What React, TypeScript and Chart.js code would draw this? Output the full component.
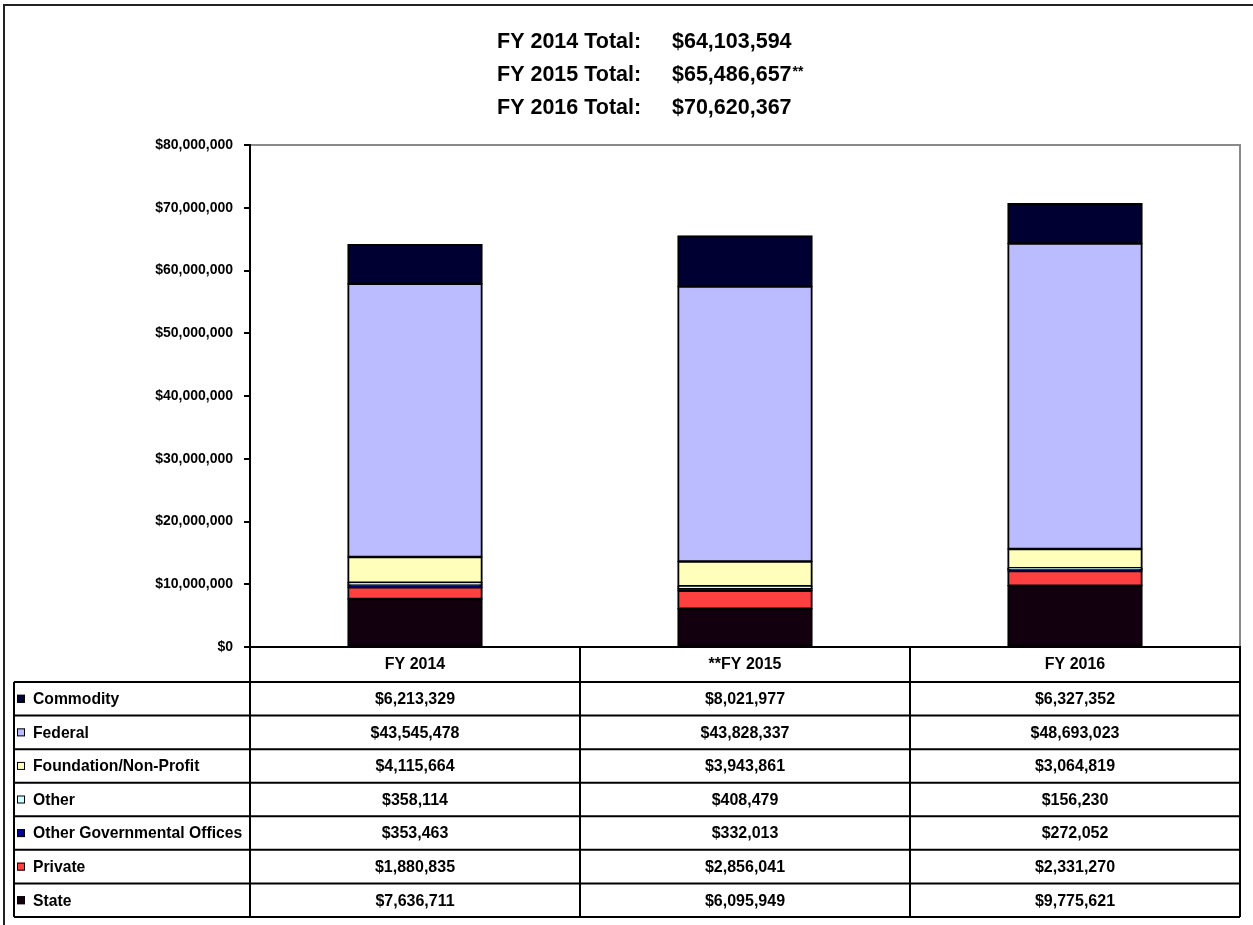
import { useEffect, useRef } from "react";
import { Chart, registerables } from "chart.js";

Chart.register(...registerables);

// ---- data ----
const categories = ["FY 2014", "**FY 2015", "FY 2016"];
const titleLabels = ["FY 2014 Total:", "FY 2015 Total:", "FY 2016 Total:"];
const titleSuffix = ["", "**", ""];

const commodity = [6213329, 8021977, 6327352];
const federal = [43545478, 43828337, 48693023];
const foundation = [4115664, 3943861, 3064819];
const other = [358114, 408479, 156230];
const otherGov = [353463, 332013, 272052];
const privateFunds = [1880835, 2856041, 2331270];
const state = [7636711, 6095949, 9775621];

const yMin = 0;
const yMax = 80000000;
const yStep = 10000000;

// stacking order: bottom -> top
const seriesNames = [
  "State",
  "Private",
  "Other Governmental Offices",
  "Other",
  "Foundation/Non-Profit",
  "Federal",
  "Commodity",
];
const seriesValues = [state, privateFunds, otherGov, other, foundation, federal, commodity];
const seriesColors = ["#12000f", "#ff4040", "#000099", "#ccffff", "#ffffbb", "#bbbbff", "#000033"];

const FONT = '"Liberation Sans", Arial, Helvetica, sans-serif';
const fmt = (v: number) => "$" + Math.round(v).toLocaleString("en-US");

const totals = categories.map((_, i) => seriesValues.reduce((s, arr) => s + arr[i], 0));

const decorPlugin = {
  id: "decor",
  beforeDraw(chart: any) {
    const ctx = chart.ctx as CanvasRenderingContext2D;
    const { left, right, top, bottom } = chart.chartArea;
    ctx.save();
    ctx.fillStyle = "#ffffff";
    ctx.fillRect(0, 0, chart.width, chart.height);
    // outer frame
    ctx.strokeStyle = "#222222";
    ctx.lineWidth = 2;
    ctx.beginPath();
    ctx.moveTo(4, chart.height);
    ctx.lineTo(4, 5);
    ctx.lineTo(chart.width, 5);
    ctx.stroke();
    // plot border (top + right), gray
    ctx.strokeStyle = "#8a8a8a";
    ctx.lineWidth = 2;
    ctx.beginPath();
    ctx.moveTo(left, top);
    ctx.lineTo(right, top);
    ctx.lineTo(right, bottom);
    ctx.stroke();
    ctx.restore();
  },
  afterDraw(chart: any) {
    const ctx = chart.ctx as CanvasRenderingContext2D;
    const { left, right, bottom } = chart.chartArea;
    const xs = chart.scales.x;
    ctx.save();

    // ---- title block ----
    ctx.fillStyle = "#000";
    ctx.textBaseline = "alphabetic";
    ctx.textAlign = "left";
    const baselines = [48, 81, 114];
    titleLabels.forEach((lab, i) => {
      ctx.font = `bold 21.5px ${FONT}`;
      ctx.fillText(lab, 497, baselines[i]);
      const val = fmt(totals[i]);
      ctx.fillText(val, 672, baselines[i]);
      if (titleSuffix[i]) {
        const w = ctx.measureText(val).width;
        ctx.font = `bold 14px ${FONT}`;
        ctx.fillText(titleSuffix[i], 672 + w + 1, baselines[i] - 5);
      }
    });

    // ---- data table ----
    const headerBottom = 682;
    const tableBottom = 917;
    const tableLeft = 14;
    const rows = seriesNames.length;
    const rowH = (tableBottom - headerBottom) / rows;

    ctx.strokeStyle = "#000";
    ctx.lineWidth = 2;
    ctx.beginPath();
    ctx.moveTo(left, bottom);
    ctx.lineTo(right, bottom);
    for (let r = 0; r <= rows; r++) {
      const y = headerBottom + r * rowH;
      ctx.moveTo(tableLeft, y);
      ctx.lineTo(right, y);
    }
    ctx.moveTo(tableLeft, headerBottom);
    ctx.lineTo(tableLeft, tableBottom);
    ctx.moveTo(left, bottom);
    ctx.lineTo(left, tableBottom);
    for (let i = 0; i < categories.length - 1; i++) {
      const bx = (xs.getPixelForValue(i) + xs.getPixelForValue(i + 1)) / 2;
      ctx.moveTo(bx, bottom);
      ctx.lineTo(bx, tableBottom);
    }
    ctx.moveTo(right, bottom);
    ctx.lineTo(right, tableBottom);
    ctx.stroke();

    // rows: top-down = reverse of stacking order
    for (let r = 0; r < rows; r++) {
      const si = rows - 1 - r;
      const cy = headerBottom + r * rowH + rowH / 2;
      ctx.fillStyle = seriesColors[si];
      ctx.fillRect(17, cy - 4, 8, 8);
      ctx.lineWidth = 1;
      ctx.strokeStyle = "#000";
      ctx.strokeRect(17.5, cy - 3.5, 7, 7);
      ctx.fillStyle = "#000";
      ctx.font = `bold 15.7px ${FONT}`;
      ctx.textAlign = "left";
      ctx.textBaseline = "middle";
      ctx.fillText(seriesNames[si], 33, cy + 1);
      ctx.font = `bold 16px ${FONT}`;
      ctx.textAlign = "center";
      categories.forEach((_, i) => {
        ctx.fillText(fmt(seriesValues[si][i]), xs.getPixelForValue(i), cy + 1);
      });
    }
    ctx.restore();
  },
};

export default function App() {
  const ref = useRef<HTMLCanvasElement | null>(null);

  useEffect(() => {
    document.body.style.margin = "0";
    if (!ref.current) return;
    const chart = new Chart(ref.current, {
      type: "bar",
      data: {
        labels: categories,
        datasets: seriesNames.map((name, i) => ({
          label: name,
          data: seriesValues[i],
          backgroundColor: seriesColors[i],
          borderColor: "#000000",
          borderWidth: 2,
          borderSkipped: false,
          inflateAmount: 0.75,
          barPercentage: 0.406,
          categoryPercentage: 1,
        })),
      },
      options: {
        responsive: false,
        animation: false,
        layout: { padding: { top: 145, right: 13, left: 0, bottom: 0 } },
        plugins: {
          legend: { display: false },
          tooltip: { enabled: false },
          title: { display: false },
        },
        scales: {
          x: {
            stacked: true,
            offset: true,
            grid: { display: false, drawTicks: false },
            border: { display: true, color: "#000", width: 2 },
            ticks: {
              color: "#000",
              padding: 8,
              font: { family: FONT, size: 16, weight: "bold" },
            },
            afterFit: (s: any) => {
              s.height = 278;
            },
          },
          y: {
            stacked: true,
            min: yMin,
            max: yMax,
            ticks: {
              stepSize: yStep,
              color: "#000",
              padding: 11,
              font: { family: FONT, size: 14, weight: "bold" },
              callback: (v: any) => fmt(Number(v)),
            },
            grid: {
              drawOnChartArea: false,
              drawTicks: true,
              tickLength: 6,
              color: "#000",
              lineWidth: 2,
            },
            border: { display: true, color: "#000", width: 2 },
            afterFit: (s: any) => {
              s.width = 250;
            },
          },
        },
      } as any,
      plugins: [decorPlugin],
    });
    return () => chart.destroy();
  }, []);

  return (
    <canvas
      ref={ref}
      width={1253}
      height={925}
      style={{ display: "block", width: 1253, height: 925 }}
    />
  );
}
